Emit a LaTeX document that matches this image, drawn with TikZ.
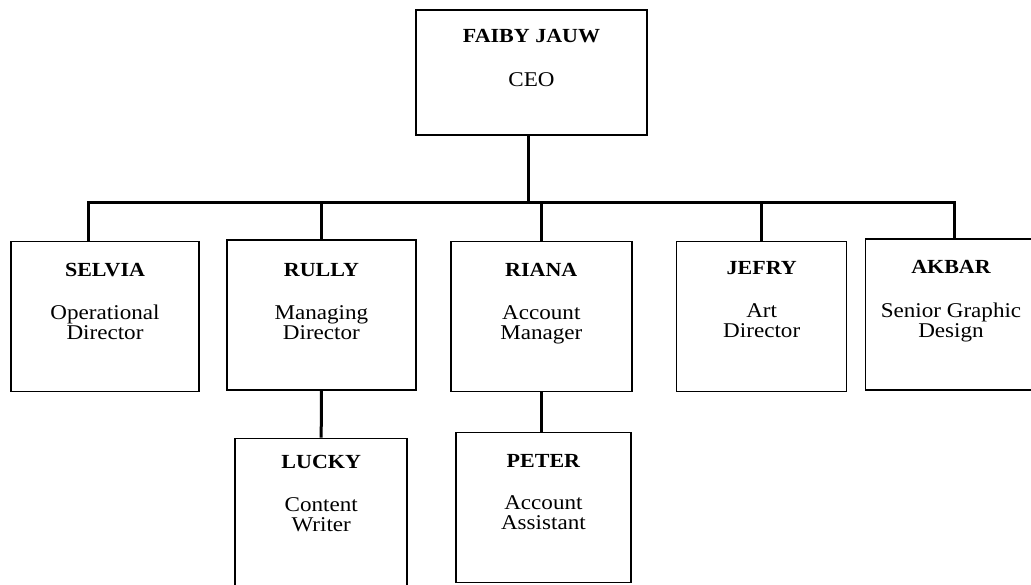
\documentclass[tikz,border=0pt]{standalone}
\usepackage{fontspec}
\setmainfont{Liberation Serif}[FakeStretch=1.1]
\usetikzlibrary{positioning}

\tikzset{
  box/.style={rectangle, draw, line width=1.5pt, inner sep=0pt},
  who/.style={font=\fontsize{20}{20}\selectfont\bfseries, anchor=base, inner sep=0pt},
  job/.style={font=\fontsize{21}{20}\selectfont, align=center, anchor=base, inner sep=0pt},
  link/.style={line width=3pt}
}

\begin{document}
\begin{tikzpicture}[x=1pt, y=-1pt]
  \useasboundingbox (0,0) rectangle (1031,585);

  % boxes
  \node[box, minimum width=231pt, minimum height=125pt] (CEO) at (531.5,72.5) {};
  \node[box, minimum width=188pt, minimum height=150pt] (SELVIA) at (105,316.7) {};
  \node[box, minimum width=189pt, minimum height=150pt] (RULLY) at (321.4,315) {};
  \node[box, minimum width=181pt, minimum height=150pt] (RIANA) at (541.3,316.7) {};
  \node[box, minimum width=170pt, minimum height=150pt] (JEFRY) at (761.7,316.7) {};
  \node[box, minimum width=177pt, minimum height=151pt] (AKBAR) at (954,314.7) {};
  \node[box, minimum width=172pt, minimum height=160pt] (LUCKY) at (321.2,518.3) {};
  \node[box, minimum width=175pt, minimum height=150pt] (PETER) at (543.4,507.3) {};

  % texts (job baselines are those of the last line)
  \node[who] (CEOname) at ([yshift=-33pt]CEO.north) {FAIBY JAUW};
  \node[job] (CEOjob) at ([yshift=-77pt]CEO.north) {CEO};
  \node[who] (SELVIAname) at ([yshift=-35.5pt]SELVIA.north) {SELVIA};
  \node[job] (SELVIAjob) at ([yshift=-99pt]SELVIA.north) {Operational\\Director};
  \node[who] (RULLYname) at ([yshift=-37pt]RULLY.north) {RULLY};
  \node[job] (RULLYjob) at ([yshift=-100.5pt]RULLY.north) {Managing\\Director};
  \node[who] (RIANAname) at ([yshift=-35.5pt]RIANA.north) {RIANA};
  \node[job] (RIANAjob) at ([yshift=-98.5pt]RIANA.north) {Account\\Manager};
  \node[who] (JEFRYname) at ([yshift=-34pt]JEFRY.north) {JEFRY};
  \node[job] (JEFRYjob) at ([yshift=-96.5pt]JEFRY.north) {Art\\Director};
  \node[who] (AKBARname) at ([xshift=-3pt, yshift=-35.5pt]AKBAR.north) {AKBAR};
  \node[job] (AKBARjob) at ([xshift=-3pt, yshift=-99pt]AKBAR.north) {Senior Graphic\\Design};
  \node[who] (LUCKYname) at ([yshift=-31pt]LUCKY.north) {LUCKY};
  \node[job] (LUCKYjob) at ([yshift=-94pt]LUCKY.north) {Content\\Writer};
  \node[who] (PETERname) at ([yshift=-35.5pt]PETER.north) {PETER};
  \node[job] (PETERjob) at ([yshift=-97.5pt]PETER.north) {Account\\Assistant};

  % connectors
  \coordinate (bus) at (528,203);
  \draw[link] ([xshift=-3.5pt]CEO.south) -- (bus);
  \draw[link] ([xshift=-17pt]SELVIA.north) |- (AKBAR.north |- bus) -- (AKBAR.north);
  \draw[link] (RULLY.north) -- (RULLY.north |- bus);
  \draw[link] (RIANA.north) -- (RIANA.north |- bus);
  \draw[link] (JEFRY.north) -- (JEFRY.north |- bus);
  \draw[link] (RULLY.south) -- (LUCKY.north);
  \draw[link] (RIANA.south) -- (RIANA.south |- PETER.north);
\end{tikzpicture}
\end{document}
